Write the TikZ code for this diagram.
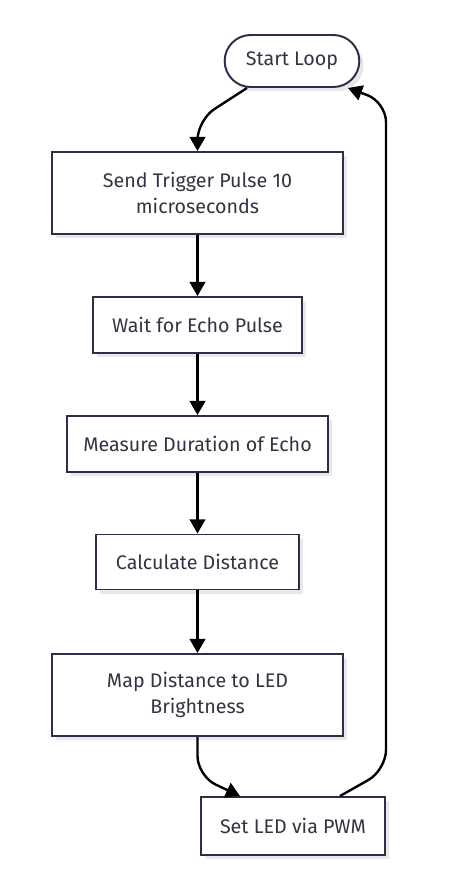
\documentclass[tikz,border=0pt]{standalone}
\usepackage{fontspec}
\setmainfont{Fira Sans}
\usetikzlibrary{arrows.meta,shadows,shapes.misc}

\definecolor{contur}{HTML}{2E2E48}
\definecolor{textul}{HTML}{333344}

\tikzset{
  pas/.style={draw=contur,line width=1.4pt,fill=white,text=textul,align=center,
    font=\fontsize{14}{18}\selectfont,
    drop shadow={shadow xshift=3pt,shadow yshift=-3pt,fill=black!9,opacity=1}},
  capat/.style={pas,rounded rectangle},
  sageata/.style={line width=1.7pt,rounded corners=0.5cm,-{Triangle[length=10pt,width=11pt]}}
}

\begin{document}
\begin{tikzpicture}
  \useasboundingbox (0,0) rectangle (11.675,-22.25);

  % inceputul buclei
  \node[capat,minimum width=3.6cm,minimum height=1.3cm] (start) at (7.3,-1.525) {Start Loop};

  % pasii
  \node[pas,minimum width=7.275cm,minimum height=2.05cm] (trigger) at (4.9375,-4.825) {Send Trigger Pulse 10\\microseconds};
  \node[pas,minimum width=5.225cm,minimum height=1.4cm] (ecou) at (4.9375,-8.125) {Wait for Echo Pulse};
  \node[pas,minimum width=6.525cm,minimum height=1.4cm] (durata) at (4.9375,-11.1) {Measure Duration of Echo};
  \node[pas,minimum width=5.075cm,minimum height=1.375cm] (distanta) at (4.9375,-14.05) {Calculate Distance};
  \node[pas,minimum width=7.275cm,minimum height=2.05cm] (mapare) at (4.9375,-17.375) {Map Distance to LED\\Brightness};
  \node[pas,minimum width=4.6cm,minimum height=1.45cm] (led) at (7.325,-20.65) {Set LED via PWM};

  % legaturi
  \draw[sageata] ([xshift=-1.125cm]start.south) -- (4.9375,-3.0) -- (trigger.north);
  \draw[sageata] (trigger) -- (ecou);
  \draw[sageata] (ecou) -- (durata);
  \draw[sageata] (durata) -- (distanta);
  \draw[sageata] (distanta) -- (mapare);
  \draw[sageata] (mapare.south) -- (4.9375,-19.4) -- ([xshift=-1.325cm]led.north);
  % inapoi la start
  \draw[sageata] ([xshift=1.175cm]led.north) -- (9.65,-19.25) -- (9.65,-2.55) -- ([xshift=1.4cm]start.south);
\end{tikzpicture}
\end{document}
